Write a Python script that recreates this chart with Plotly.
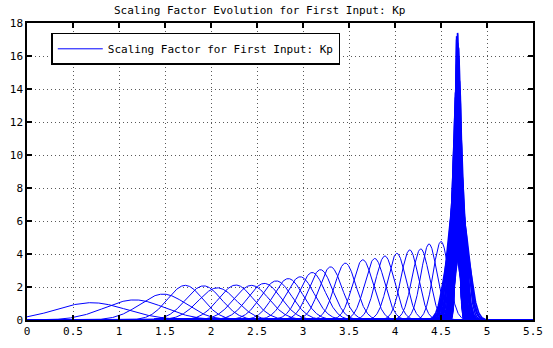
import numpy as np
import plotly.graph_objects as go

# Peak positions (x) and peak heights
spread_centers = [0.70, 1.17, 1.48, 1.72, 1.92, 2.07, 2.27, 2.44, 2.58, 2.71, 2.84, 2.97,
                  3.10, 3.19, 3.30, 3.46, 3.65, 3.78, 3.89, 4.02, 4.16, 4.28, 4.37, 4.50]
spread_peaks = [1.05, 1.22, 1.57, 2.10, 2.07, 1.95, 2.12, 2.10, 2.22, 2.37, 2.51, 2.62,
                2.88, 3.05, 3.22, 3.45, 3.65, 3.73, 3.88, 4.04, 4.25, 4.31, 4.61, 4.76]
cluster_centers = [4.62, 4.74, 4.63, 4.73, 4.66, 4.70, 4.62, 4.73, 4.65, 4.71, 4.64, 4.69,
                   4.67, 4.72, 4.66, 4.70, 4.68, 4.65, 4.71, 4.67, 4.69, 4.68, 4.66, 4.70,
                   4.68, 4.69, 4.67, 4.68,
                   4.63, 4.72, 4.64, 4.74, 4.65, 4.71, 4.63, 4.70, 4.66, 4.72, 4.64, 4.71,
                   4.67, 4.69, 4.65, 4.70, 4.66, 4.69, 4.67, 4.68, 4.66, 4.70, 4.67, 4.69,
                   4.68, 4.67]
cluster_peaks = [5.0, 5.2, 5.5, 5.6, 6.0, 6.3, 6.5, 6.8, 7.2, 7.5, 8.0, 8.4,
                 8.8, 9.0, 9.5, 10.0, 10.5, 11.0, 11.5, 12.0, 12.5, 13.0, 13.5, 14.0,
                 15.0, 16.0, 17.0, 17.4,
                 5.1, 5.4, 5.8, 6.1, 6.4, 6.7, 7.0, 7.3, 7.7, 8.2, 8.6, 9.2,
                 9.7, 10.2, 10.8, 11.2, 11.8, 12.3, 12.8, 13.3, 13.8, 14.5, 15.5, 16.5,
                 16.8, 17.2]

x_ticks = [0, 0.5, 1, 1.5, 2, 2.5, 3, 3.5, 4, 4.5, 5, 5.5]
x_tick_labels = ["0", "0.5", "1", "1.5", "2", "2.5", "3", "3.5", "4", "4.5", "5", "5.5"]
y_ticks = [0, 2, 4, 6, 8, 10, 12, 14, 16, 18]

centers = spread_centers + cluster_centers
peaks = spread_peaks + cluster_peaks
n_spread = len(spread_centers)

xs = np.linspace(0, 5.5, 2201)
FONT = "DejaVu Sans Mono"

fig = go.Figure()
for i, (c, h) in enumerate(zip(centers, peaks)):
    sigma = 1.0 / (h * np.sqrt(2 * np.pi))  # normal density with the read peak height
    ys = h * np.exp(-0.5 * ((xs - c) / sigma) ** 2)
    fig.add_trace(go.Scatter(
        x=xs, y=ys, mode="lines",
        line=dict(color="rgb(0,0,255)", width=1 if i < n_spread else 1.6),
        name="Scaling Factor for First Input: Kp",
        showlegend=(i == 0),
        hoverinfo="skip",
    ))

axis_common = dict(
    showline=True, linecolor="black", linewidth=1.5, mirror="ticks",
    ticks="inside", ticklen=5, tickcolor="black", tickwidth=1.5,
    showgrid=True, gridcolor="rgba(0,0,0,0.65)", gridwidth=1, griddash="1px,3px",
    zeroline=False, tickfont=dict(family=FONT, size=11, color="black"),
)

fig.update_layout(
    width=553, height=348,
    margin=dict(l=27, r=10, t=23, b=19),
    paper_bgcolor="white", plot_bgcolor="white",
    showlegend=True,
    legend=dict(
        x=0.048, y=0.967, xanchor="left", yanchor="top",
        bordercolor="black", borderwidth=1.5, bgcolor="white",
        font=dict(family=FONT, size=11, color="black"),
        itemwidth=45,
    ),
    xaxis=dict(range=[0, 5.5], tickvals=x_ticks, ticktext=x_tick_labels, **axis_common),
    yaxis=dict(range=[0, 18], tickvals=y_ticks, **axis_common),
    annotations=[dict(
        text="Scaling Factor Evolution for First Input: Kp",
        xref="paper", yref="paper", x=0.459, y=1.0, yshift=4,
        xanchor="center", yanchor="bottom", showarrow=False,
        font=dict(family=FONT, size=11, color="black"),
    )],
)

fig.write_html("out.html")
